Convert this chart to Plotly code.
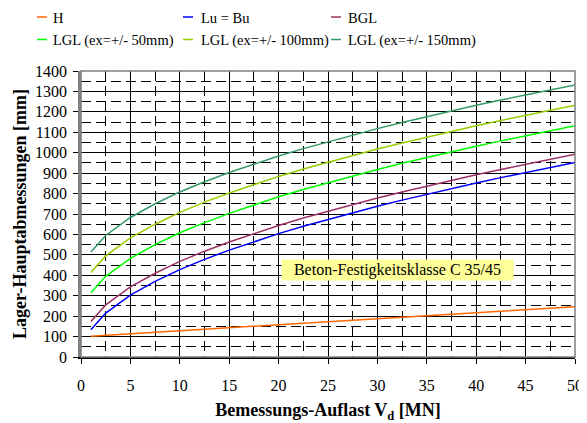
import plotly.graph_objects as go

# Data
V = [1, 2.5, 5, 7.5, 10, 12.5, 15, 17.5, 20, 22.5, 25, 27.5, 30, 32.5, 35, 37.5, 40, 42.5, 45, 47.5, 50]
H = [101, 106, 115, 122, 129, 136, 143, 151, 158, 165, 173, 180, 188, 195, 202, 209, 216, 224, 231, 239, 246]
LuBu = [134, 215, 303, 370, 428, 478, 523, 564, 604, 640, 673, 706, 738, 768, 797, 825, 852, 878, 903, 928, 952]
BGL = [174, 255, 343, 410, 468, 518, 563, 604, 644, 680, 713, 746, 778, 808, 837, 865, 892, 918, 943, 968, 992]
LGL50 = [314, 395, 483, 550, 608, 658, 703, 744, 784, 820, 853, 886, 918, 948, 977, 1005, 1032, 1058, 1083, 1108, 1132]
LGL100 = [414, 495, 583, 650, 708, 758, 803, 844, 884, 920, 953, 986, 1018, 1048, 1077, 1105, 1132, 1158, 1183, 1208, 1232]
LGL150 = [514, 595, 683, 750, 808, 858, 903, 944, 984, 1020, 1053, 1086, 1118, 1148, 1177, 1205, 1232, 1258, 1283, 1308, 1332]

names = ["H", "Lu = Bu", "BGL", "LGL (ex=+/- 50mm)", "LGL (ex=+/- 100mm)", "LGL (ex=+/- 150mm)"]
values = [H, LuBu, BGL, LGL50, LGL100, LGL150]
colors = ["#FF6600", "#0000FF", "#993366", "#00FF00", "#99CC00", "#339966"]

FONT = "Liberation Serif"

# page layout (page px); the html body adds an 8px margin
PX_L, PX_R, PX_T, PX_B = 81, 575, 71, 357
def px_to_paper_x(px):
    return (px - PX_L) / (PX_R - PX_L)
def px_to_paper_y(py):
    return (PX_B - py) / (PX_B - PX_T)

fig = go.Figure()
for name, vals, col in zip(names, values, colors):
    fig.add_trace(go.Scatter(x=V, y=vals, mode="lines", name=name,
                             line=dict(color=col, width=1.5), showlegend=False))

# manual legend (short line keys like the reference)
leg_cols = [(37, 51), (183, 199), (331, 346)]
leg_rows = [17, 39.5]
for i, (name, col) in enumerate(zip(names, colors)):
    (kx, tx) = leg_cols[i % 3]
    ry = leg_rows[i // 3]
    fig.add_shape(type="line", xref="paper", yref="paper",
                  x0=px_to_paper_x(kx), x1=px_to_paper_x(kx + 10),
                  y0=px_to_paper_y(ry), y1=px_to_paper_y(ry),
                  line=dict(color=col, width=1.5))
    fig.add_annotation(xref="paper", yref="paper", x=px_to_paper_x(tx), y=px_to_paper_y(ry + 1),
                       xanchor="left", yanchor="middle", text=name, showarrow=False,
                       font=dict(family=FONT, size=14.5, color="black"))

fig.add_annotation(x=32, y=428, xref="x", yref="y",
                   text="Beton-Festigkeitsklasse C 35/45", showarrow=False,
                   font=dict(family=FONT, size=16, color="black"),
                   bgcolor="#FFFF99", width=229, height=18, borderpad=1)

# plot border (top / right gray)
fig.add_shape(type="rect", xref="paper", yref="paper", x0=0, x1=1, y0=0, y1=1,
              line=dict(color="#808080", width=1.5), layer="above")

fig.update_layout(
    width=579, height=415,
    margin=dict(l=PX_L - 8, r=587 - PX_R, t=PX_T - 8, b=423 - PX_B, autoexpand=False),
    paper_bgcolor="white", plot_bgcolor="white",
    font=dict(family=FONT, size=16, color="black"),
    showlegend=False,
    xaxis=dict(range=[0, 50], tickmode="linear", tick0=0, dtick=5,
               showgrid=True, gridcolor="black", gridwidth=1,
               minor=dict(dtick=2.5, showgrid=True, gridcolor="black", griddash="10px,5px", gridwidth=1),
               ticks="outside", ticklen=5, tickcolor="black", tickwidth=1,
               showline=True, linecolor="black", linewidth=2,
               zeroline=False, ticklabelstandoff=8, automargin=False,
               tickfont=dict(family=FONT, size=16),
               title=dict(text="<b>Bemessungs-Auflast V<sub>d</sub> [MN]</b>",
                          font=dict(family=FONT, size=18), standoff=13)),
    yaxis=dict(range=[0, 1400], tickmode="linear", tick0=0, dtick=100,
               showgrid=True, gridcolor="black", gridwidth=1,
               minor=dict(dtick=50, showgrid=True, gridcolor="black", griddash="10px,5px", gridwidth=1),
               ticks="outside", ticklen=5, tickcolor="black", tickwidth=1,
               showline=True, linecolor="#808080", linewidth=2.5,
               zeroline=False, ticklabelstandoff=3, automargin=False,
               tickfont=dict(family=FONT, size=16),
               title=dict(text="<b>Lager-Hauptabmessungen [mm]</b>",
                          font=dict(family=FONT, size=18), standoff=4)),
)

fig.write_html("out.html")
